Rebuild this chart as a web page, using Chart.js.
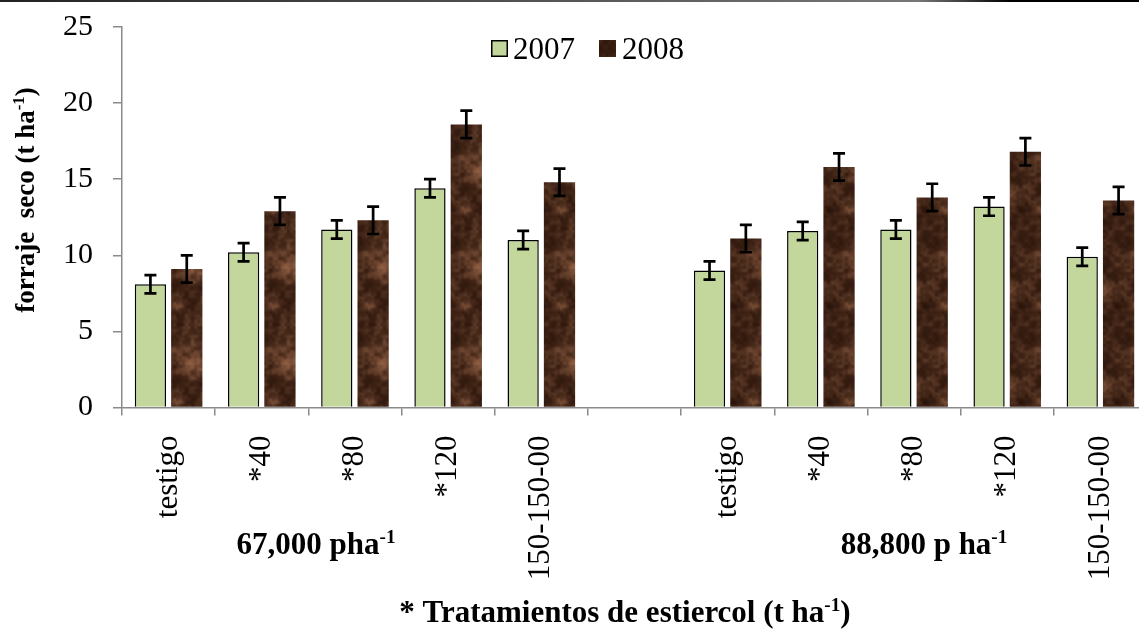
<!DOCTYPE html>
<html>
<head>
<meta charset="utf-8">
<script src="https://cdn.jsdelivr.net/npm/chart.js@4/dist/chart.umd.min.js"></script>
<style>
  html, body { margin: 0; padding: 0; background: #fff; overflow: hidden; }
</style>
</head>
<body>
<canvas id="forraje" width="1148" height="631"></canvas>
<script>
// tratamientos de estiercol, dos densidades separadas por una columna vacia
const categories = ['testigo', '*40', '*80', '*120', '150-150-00', '',
                    'testigo', '*40', '*80', '*120', '150-150-00'];
const years = ['2007', '2008'];
const forraje2007 = [8.1, 10.2, 11.7, 14.4, 11.0, null, 9.0, 11.6, 11.7, 13.2, 9.9];
const forraje2008 = [9.1, 12.9, 12.3, 18.6, 14.8, null, 11.1, 15.8, 13.8, 16.8, 13.6];
const err2007 = [0.6, 0.6, 0.6, 0.6, 0.6, null, 0.6, 0.6, 0.6, 0.6, 0.6];
const err2008 = [0.9, 0.9, 0.9, 0.9, 0.9, null, 0.9, 0.9, 0.9, 0.9, 0.9];
const yTicks = [0, 5, 10, 15, 20, 25];
const densidades = ['67,000 pha', '88,800 p ha'];

const SERIF = '"Liberation Serif", "Times New Roman", serif';
const AXIS = '#8a8a8a';
const GREEN = '#c3d69b';

// textura cafe tipo tierra (ruido de valor, determinista)
function hash(x, y) {
  let h = Math.imul(x, 374761393) + Math.imul(y, 668265263);
  h = Math.imul(h ^ (h >>> 13), 1274126177);
  return ((h ^ (h >>> 16)) >>> 0) / 4294967295;
}
function noise(x, y, cell, size, seed) {
  const n = size / cell;
  const gx = x / cell, gy = y / cell;
  const x0 = Math.floor(gx), y0 = Math.floor(gy);
  const fx = gx - x0, fy = gy - y0;
  const sx = fx * fx * (3 - 2 * fx), sy = fy * fy * (3 - 2 * fy);
  const v = (i, j) => hash(((x0 + i) % n) + seed, ((y0 + j) % n) + seed * 7);
  const a = v(0, 0) + (v(1, 0) - v(0, 0)) * sx;
  const b = v(0, 1) + (v(1, 1) - v(0, 1)) * sx;
  return a + (b - a) * sy;
}
function soilPattern() {
  const size = 96;
  const c = document.createElement('canvas');
  c.width = size; c.height = size;
  const g = c.getContext('2d');
  const img = g.createImageData(size, size);
  for (let y = 0; y < size; y++) {
    for (let x = 0; x < size; x++) {
      let v = 0.5 * noise(x, y, 16, size, 3) + 0.3 * noise(x, y, 6, size, 11) + 0.2 * noise(x, y, 3, size, 29);
      v = Math.pow(v, 2.2);
      const k = (y * size + x) * 4;
      img.data[k] = 42 + v * 125;
      img.data[k + 1] = 20 + v * 92;
      img.data[k + 2] = 10 + v * 70;
      img.data[k + 3] = 255;
    }
  }
  g.putImageData(img, 0, 0);
  return g.createPattern(c, 'repeat');
}
const soil = soilPattern();

// texto con superindice "-1"
function richText(ctx, parts, x, y, size, bold, align) {
  const w = parts.map(p => {
    ctx.font = (bold ? 'bold ' : '') + (p.sup ? size * 0.62 : size) + 'px ' + SERIF;
    return ctx.measureText(p.t).width;
  });
  const total = w.reduce((a, b) => a + b, 0);
  let cx = align === 'center' ? x - total / 2 : x;
  ctx.textAlign = 'left';
  ctx.textBaseline = 'alphabetic';
  ctx.fillStyle = '#000';
  parts.forEach((p, i) => {
    ctx.font = (bold ? 'bold ' : '') + (p.sup ? size * 0.62 : size) + 'px ' + SERIF;
    ctx.fillText(p.t, cx, p.sup ? y - size * 0.36 : y);
    cx += w[i];
  });
}

const errorBars = {
  id: 'errorBars',
  afterDatasetsDraw(chart) {
    const ctx = chart.ctx, y = chart.scales.y;
    const errs = [err2007, err2008];
    ctx.save();
    ctx.strokeStyle = '#000';
    ctx.lineWidth = 2.7;
    chart.data.datasets.forEach((ds, di) => {
      chart.getDatasetMeta(di).data.forEach((bar, i) => {
        if (ds.data[i] == null) return;
        const hi = y.getPixelForValue(ds.data[i] + errs[di][i]);
        const lo = y.getPixelForValue(ds.data[i] - errs[di][i]);
        ctx.beginPath();
        ctx.moveTo(bar.x, hi); ctx.lineTo(bar.x, lo);
        ctx.moveTo(bar.x - 6, hi); ctx.lineTo(bar.x + 6, hi);
        ctx.moveTo(bar.x - 6, lo); ctx.lineTo(bar.x + 6, lo);
        ctx.stroke();
      });
    });
    ctx.restore();
  }
};

const decor = {
  id: 'decor',
  afterDraw(chart) {
    const ctx = chart.ctx, a = chart.chartArea;
    ctx.save();
    // linea superior
    const grad = ctx.createLinearGradient(0, 0, chart.width, 0);
    grad.addColorStop(0, '#222'); grad.addColorStop(0.8, '#777'); grad.addColorStop(0.88, '#000');
    ctx.fillStyle = grad;
    ctx.fillRect(0, 0, chart.width, 2);

    // leyenda
    const fills = [GREEN, soil];
    const lx = [491, 599], tx = [513, 622];
    years.forEach((yr, i) => {
      ctx.fillStyle = fills[i];
      ctx.fillRect(lx[i], 40, 17, 17);
      if (i === 0) {
        ctx.strokeStyle = '#000'; ctx.lineWidth = 1.5;
        ctx.strokeRect(lx[i] + 0.75, 40.75, 15.5, 15.5);
      }
      ctx.fillStyle = '#000';
      ctx.font = '31px ' + SERIF;
      ctx.textAlign = 'left'; ctx.textBaseline = 'middle';
      ctx.fillText(yr, tx[i], 51);
    });

    // titulo eje y
    ctx.save();
    ctx.translate(34, 200);
    ctx.rotate(-Math.PI / 2);
    richText(ctx, [{ t: 'forraje  seco (t ha' }, { t: '-1', sup: true }, { t: ')' }], 0, 0, 27, true, 'center');
    ctx.restore();

    // densidades de poblacion
    richText(ctx, [{ t: densidades[0] }, { t: '-1', sup: true }], a.left + 194, 554, 31, true, 'center');
    richText(ctx, [{ t: densidades[1] }, { t: '-1', sup: true }], a.left + 802, 554, 31, true, 'center');

    // titulo eje x
    richText(ctx, [{ t: '* Tratamientos de estiercol (t ha' }, { t: '-1', sup: true }, { t: ')' }], 625, 622, 31, true, 'center');
    ctx.restore();
  }
};

new Chart(document.getElementById('forraje'), {
  type: 'bar',
  data: {
    labels: categories,
    datasets: [
      { label: years[0], data: forraje2007, backgroundColor: GREEN, borderColor: '#000',
        borderWidth: 1.5, borderSkipped: 'bottom' },
      { label: years[1], data: forraje2008, backgroundColor: soil, borderWidth: 0 }
    ]
  },
  options: {
    responsive: false,
    animation: false,
    layout: { padding: { top: 27, right: 1, left: 0, bottom: 0 } },
    categoryPercentage: 0.78,
    barPercentage: 0.86,
    plugins: { legend: { display: false }, tooltip: { enabled: false } },
    scales: {
      x: {
        grid: { drawOnChartArea: false, tickLength: 8, color: AXIS, lineWidth: 1.5, offset: true },
        border: { color: AXIS, width: 1.5 },
        ticks: { color: '#000', font: { family: SERIF, size: 31 }, minRotation: 90, maxRotation: 90,
                 autoSkip: false, padding: 20 },
        afterFit(s) { s.height = 631 - 407.5; s.paddingLeft = 0; s.paddingRight = 0; }
      },
      y: {
        min: 0, max: 25,
        afterBuildTicks(s) { s.ticks = yTicks.map(v => ({ value: v })); },
        grid: { drawOnChartArea: false, tickLength: 9, color: AXIS, lineWidth: 1.5 },
        border: { color: AXIS, width: 1.5 },
        ticks: { color: '#000', font: { family: SERIF, size: 30 }, padding: 20 },
        afterFit(s) { s.width = 122; s.paddingTop = 0; s.paddingBottom = 0; }
      }
    }
  },
  plugins: [errorBars, decor]
});
</script>
</body>
</html>
